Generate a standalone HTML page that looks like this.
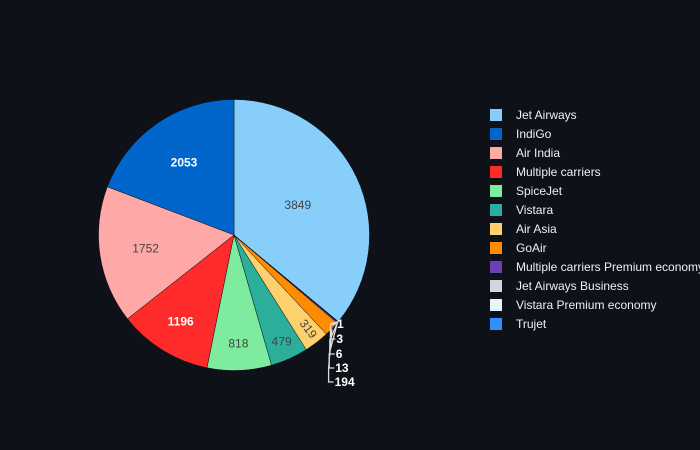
<!DOCTYPE html>
<html><head><meta charset="utf-8"><style>
html,body{margin:0;padding:0;background:#0f1119;}
svg{display:block;font-family:"Liberation Sans",Arial,sans-serif;}
</style></head><body>
<svg id="chart" width="700" height="450">
<rect width="700" height="450" fill="#0f1119"/>
<g id="slices"></g><g id="labels"></g><g id="legend"></g>
</svg>
<script>
const categories=["Jet Airways","IndiGo","Air India","Multiple carriers","SpiceJet","Vistara","Air Asia","GoAir","Multiple carriers Premium economy","Jet Airways Business","Vistara Premium economy","Trujet"];
const values=[3849,2053,1752,1196,818,479,319,194,13,6,3,1];
const colors=["#87cefa","#0066cc","#ffa8a8","#ff2a2a","#7eeb9e","#2bae9a","#ffd06e","#ff8c00","#6a3fb8","#d3d6df","#e8f4ff","#2f8fff"];
const textColors=["#444","#fff","#444","#fff","#444","#444","#444"];
const radFactor=[0.52,0.65,0.66,0.75,0.8,0.86,0.86];
const NS="http://www.w3.org/2000/svg";
const cx=234,cy=235,R=135.5;
const total=values.reduce((a,b)=>a+b,0);
const TAU=2*Math.PI;
function pt(a,r){return [cx+r*Math.sin(a),cy-r*Math.cos(a)];}
const gS=document.getElementById('slices'),gL=document.getElementById('labels'),gG=document.getElementById('legend');
let S=0;const outside=[];
values.forEach((v,i)=>{
  let a0,a1;
  if(i==0){a0=0;a1=v/total*TAU;}
  else{a1=TAU-S/total*TAU;S+=v;a0=TAU-S/total*TAU;}
  const p0=pt(a0,R),p1=pt(a1,R);const large=(a1-a0)>Math.PI?1:0;
  const p=document.createElementNS(NS,'path');
  p.setAttribute('d',`M${cx},${cy}L${p0[0]},${p0[1]}A${R},${R} 0 ${large} 1 ${p1[0]},${p1[1]}Z`);
  p.setAttribute('fill',colors[i]);p.setAttribute('stroke','#0f1119');p.setAttribute('stroke-width','0.5');
  
  
  gS.appendChild(p);
  const am=(a0+a1)/2;
  if(i<7){
    const q=pt(am,R*radFactor[i]);
    const t=document.createElementNS(NS,'text');
    t.setAttribute('x',q[0]);t.setAttribute('y',q[1]+4);t.setAttribute('text-anchor','middle');
    t.setAttribute('font-size','12');t.setAttribute('fill',textColors[i]);
    if(textColors[i]=='#fff')t.setAttribute('font-weight','bold');
    if(i==6)t.setAttribute('transform',`rotate(${am*180/Math.PI-90},${q[0]},${q[1]+4})`);
    t.textContent=v;
    
    
    gL.appendChild(t);
  } else outside.push({v,am});
});
outside.reverse();
outside.forEach((o,k)=>{
  const e=pt(o.am,R);
  const ly=[324,339,354,368,382][k]||(324+k*14.5);
  const lx=331-k*0.6;
  const l=document.createElementNS(NS,'path');
  l.setAttribute('d',`M${e[0]},${e[1]}L${lx},${Math.max(e[1]+2,ly-14)}L${lx},${ly}L${lx+5},${ly}`);
  l.setAttribute('fill','none');l.setAttribute('stroke','#ddd');l.setAttribute('stroke-width','1.3');
  
  
  gL.appendChild(l);
  const t=document.createElementNS(NS,'text');
  t.setAttribute('x',lx+6);t.setAttribute('y',ly+4);t.setAttribute('font-size','12');t.setAttribute('fill','#fff');t.setAttribute('font-weight','bold');
  t.textContent=o.v;
  
  
  gL.appendChild(t);
});
categories.forEach((c,i)=>{
  const y=115+i*19;
  const g=document.createElementNS(NS,'g');
  
  
  const r=document.createElementNS(NS,'rect');
  r.setAttribute('x',490);r.setAttribute('y',y-6);r.setAttribute('width',12);r.setAttribute('height',12);r.setAttribute('fill',colors[i]);
  
  
  const t=document.createElementNS(NS,'text');
  t.setAttribute('x',516);t.setAttribute('y',y+4);t.setAttribute('font-size','12');t.setAttribute('fill','#f0f0f0');
  t.textContent=c;
  
  
  g.appendChild(r);g.appendChild(t);gG.appendChild(g);
});
</script>
</body></html>
